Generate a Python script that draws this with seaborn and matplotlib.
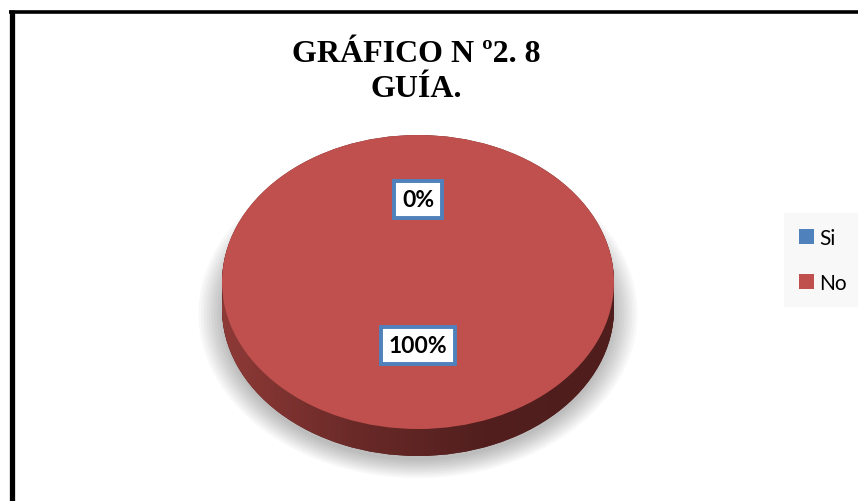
import numpy as np
import matplotlib.pyplot as plt
import seaborn as sns
from matplotlib.lines import Line2D
from matplotlib.colors import LinearSegmentedColormap

# datos
categorias = ['Si', 'No']
valores = [0, 100]
colores = ['#4F81BD', '#C0504D']
titulo = 'GRÁFICO N º2. 8\nGUÍA.'

sns.set_theme(style='white')
plt.rcParams['font.family'] = ['Lato', 'DejaVu Sans']

W, H = 858, 502
fig = plt.figure(figsize=(W / 100, H / 100), dpi=100)
ax = fig.add_axes([0, 0, 1, 1])

# geometria de la elipse (px)
cx, cy, rx, ry = 418, 283, 196, 147
prof = 27 / ry
kw = dict(startangle=90, counterclock=False)

# sombra
for r in np.linspace(1.12, 1.0, 10):
    ax.pie(valores, radius=r, center=(0, -prof - 0.03), colors=['#000000'] * 2,
           wedgeprops=dict(alpha=0.028, linewidth=0), **kw)

# lateral (efecto 3D)
for c in np.linspace(-prof, 0, 30):
    lado, _ = ax.pie(valores, center=(0, c), colors=['#5a2423'] * 2,
                     wedgeprops=dict(linewidth=0), **kw)
    if c == -prof:
        base = lado[1]

cmap = LinearSegmentedColormap.from_list('lado', ['#8e3a37', '#6a2a28', '#521f1e', '#4e1d1c'])
grad = np.linspace(0, 1, 256).reshape(1, -1)
img = ax.imshow(grad, extent=(-1, 1, -1 - prof, 1 - prof), cmap=cmap, aspect='auto', zorder=1.5)
img.set_clip_path(base)

# cara superior
wedges, texts, autotexts = ax.pie(
    valores, colors=colores, autopct='%1.0f%%', pctdistance=0.56,
    wedgeprops=dict(linewidth=0),
    textprops=dict(fontsize=16.5, fontweight='bold', color='black'), **kw)
for w in wedges:
    w.set_zorder(2)
for t in autotexts:
    t.set_zorder(5)
    t.set_bbox(dict(boxstyle='square,pad=0.35', facecolor='white',
                    edgecolor='#4F81BD', linewidth=2.8))
autotexts[0].set_position((0, 0.56))
autotexts[1].set_position((0, -0.43))

ax.set_aspect('auto')
ax.set_xlim(-cx / rx, (W - cx) / rx)
ax.set_ylim((cy - H) / ry, cy / ry)
ax.axis('off')

# titulo
fig.text(416 / W, 1 - 72 / H, titulo, ha='center', va='center', color='black',
         fontfamily='Liberation Serif', fontweight='bold', fontsize=23, linespacing=1.3)

# leyenda
leg = fig.legend(wedges, categorias, loc='upper left', bbox_to_anchor=(784 / W, 1 - 214 / H),
                 fontsize=15, frameon=True, fancybox=False, handlelength=0.75, handleheight=0.75,
                 handletextpad=0.25, labelspacing=1.2, borderpad=0.7, borderaxespad=0)
leg.get_frame().set_facecolor('#f7f7f7')
leg.get_frame().set_edgecolor('none')
for t in leg.get_texts():
    t.set_color('black')

# borde
fig.add_artist(Line2D([9 / W, 1], [1 - 12.5 / H] * 2, color='black', linewidth=2.6,
                      solid_capstyle='butt'))
fig.add_artist(Line2D([11.8 / W] * 2, [0, 1 - 11 / H], color='black', linewidth=3.8,
                      solid_capstyle='butt'))

fig.savefig('out.png', dpi=100, facecolor='white')
